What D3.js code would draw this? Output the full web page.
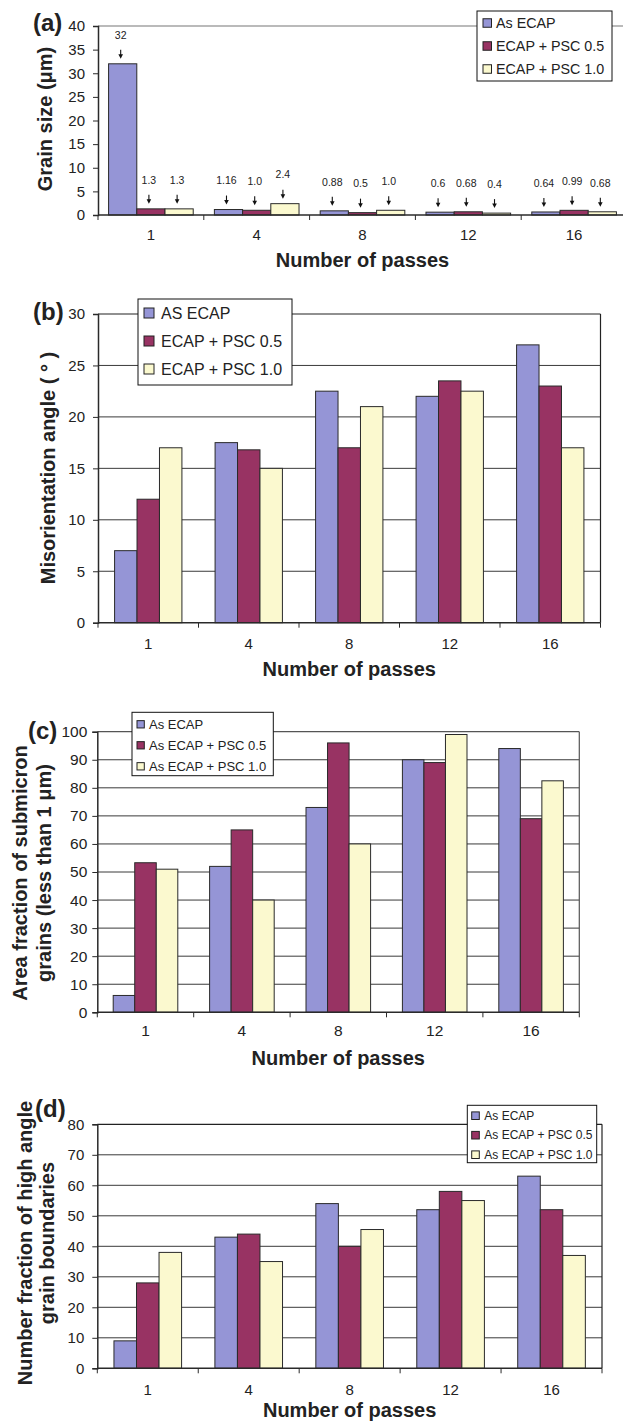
<!DOCTYPE html>
<html>
<head>
<meta charset="utf-8">
<script src="https://cdn.jsdelivr.net/npm/d3@7"></script>
<style>
  body { margin: 0; background: #fff; }
  svg { display: block; }
  text { font-family: "Liberation Sans", Arial, sans-serif; fill: #222; }
</style>
</head>
<body>
<svg id="fig" width="623" height="1422"></svg>
<script>
// Number of ECAP passes (shared category axis)
const passes = ["1", "4", "8", "12", "16"];

// (a) Grain size, µm
const grainAsEcap = [32, 1.16, 0.88, 0.6, 0.64];
const grainPsc05  = [1.3, 1.0, 0.5, 0.68, 0.99];
const grainPsc10  = [1.3, 2.4, 1.0, 0.4, 0.68];

// (b) Misorientation angle, degrees
const misAsEcap = [7, 17.5, 22.5, 22, 27];
const misPsc05  = [12, 16.8, 17, 23.5, 23];
const misPsc10  = [17, 15, 21, 22.5, 17];

// (c) Area fraction of submicron grains, %
const areaAsEcap = [6, 52, 73, 90, 94];
const areaPsc05  = [53.3, 65, 96, 89, 69];
const areaPsc10  = [51, 40, 60, 99, 82.5];

// (d) Number fraction of high angle grain boundaries, %
const hagbAsEcap = [9, 43, 54, 52, 63];
const hagbPsc05  = [28, 44, 40, 58, 52];
const hagbPsc10  = [38, 35, 45.5, 55, 37];

// Legend entries
const legendA  = ["As ECAP", "ECAP + PSC 0.5", "ECAP + PSC 1.0"];
const legendB  = ["AS ECAP", "ECAP + PSC 0.5", "ECAP + PSC 1.0"];
const legendCD = ["As ECAP", "As ECAP + PSC 0.5", "As ECAP + PSC 1.0"];

const seriesColors = ["#9595d6", "#983363", "#fbf9cf"];

const svg = d3.select("#fig");

function fmtValue(v) {
  if (v >= 10) return String(v);
  return Number.isInteger(v) ? v.toFixed(1) : String(v);
}

function drawPanel(o) {
  const g = svg.append("g");
  const x = d3.scaleBand().domain(passes).range([o.left, o.right]);
  const y = d3.scaleLinear().domain([0, o.yMax]).range([o.bottom, o.top]);
  const groupW = x.bandwidth() * o.groupFrac;
  const inner = d3.scaleBand().domain([0, 1, 2]).range([0, groupW]);
  const off = (x.bandwidth() - groupW) / 2;
  const tickVals = d3.range(0, o.yMax + o.yStep / 2, o.yStep);

  // horizontal gridlines
  if (o.grid) {
    g.append("g").selectAll("line")
      .data(tickVals.filter(t => t > 0 && t < o.yMax))
      .join("line")
      .attr("x1", o.left).attr("x2", o.right)
      .attr("y1", d => y(d)).attr("y2", d => y(d))
      .attr("stroke", "#3a3a3a").attr("stroke-width", 1);
  }
  // plot frame: top and right edges
  g.append("line")
    .attr("x1", o.left).attr("x2", o.right)
    .attr("y1", y(o.yMax)).attr("y2", y(o.yMax))
    .attr("stroke", o.frameColor).attr("stroke-width", 1.2);
  if (o.rightEdge) {
    g.append("line")
      .attr("x1", o.right).attr("x2", o.right)
      .attr("y1", o.top).attr("y2", o.bottom)
      .attr("stroke", o.frameColor).attr("stroke-width", 1.2);
  }

  // bars
  const series = o.series;
  series.forEach((vals, s) => {
    g.append("g").selectAll("rect")
      .data(vals)
      .join("rect")
      .attr("x", (d, i) => x(passes[i]) + off + inner(s))
      .attr("width", inner.bandwidth())
      .attr("y", d => y(d))
      .attr("height", d => y(0) - y(d))
      .attr("fill", seriesColors[s])
      .attr("stroke", "#2a2a2a")
      .attr("stroke-width", 1);
  });

  // value annotations with arrows
  if (o.annotate) {
    series.forEach((vals, s) => {
      vals.forEach((v, i) => {
        const cx = x(passes[i]) + off + inner(s) + inner.bandwidth() / 2 - 2;
        const ty = y(v);
        g.append("text")
          .attr("x", cx).attr("y", ty - 28)
          .attr("text-anchor", "middle")
          .attr("dominant-baseline", "middle")
          .attr("font-size", 10.5)
          .attr("fill", "#333")
          .text(fmtValue(v));
        g.append("line")
          .attr("x1", cx).attr("x2", cx)
          .attr("y1", ty - 14).attr("y2", ty - 8)
          .attr("stroke", "#111").attr("stroke-width", 1.1);
        g.append("path")
          .attr("d", `M${cx - 2.3},${ty - 9.5} L${cx + 2.3},${ty - 9.5} L${cx},${ty - 5} Z`)
          .attr("fill", "#111");
      });
    });
  }

  // y axis
  const yAxis = g.append("g")
    .attr("transform", `translate(${o.left},0)`)
    .call(d3.axisLeft(y).tickValues(tickVals).tickSize(5).tickPadding(o.yPad).tickFormat(d3.format("d")));
  yAxis.select(".domain").attr("stroke", "#2a2a2a").attr("stroke-width", 1.5);
  yAxis.selectAll(".tick line").attr("stroke", "#2a2a2a");
  yAxis.selectAll(".tick text")
    .attr("font-size", o.tickFont)
    .attr("font-family", "Liberation Sans, Arial, sans-serif")
    .attr("fill", "#222");

  // x axis: labels at category centres, ticks at category boundaries
  const xAxis = g.append("g")
    .attr("transform", `translate(0,${o.bottom})`)
    .call(d3.axisBottom(x).tickSize(0).tickPadding(o.xPad));
  xAxis.select(".domain").remove();
  xAxis.selectAll(".tick text")
    .attr("font-size", o.tickFont)
    .attr("font-family", "Liberation Sans, Arial, sans-serif")
    .attr("fill", "#222");
  g.append("line")
    .attr("x1", o.left).attr("x2", o.right)
    .attr("y1", o.bottom).attr("y2", o.bottom)
    .attr("stroke", "#2a2a2a").attr("stroke-width", 1.5);
  g.append("g").selectAll("line")
    .data(passes.map(p => x(p)).concat([o.right]))
    .join("line")
    .attr("x1", d => d).attr("x2", d => d)
    .attr("y1", o.bottom).attr("y2", o.bottom + 5)
    .attr("stroke", "#2a2a2a").attr("stroke-width", 1);

  // axis titles
  g.append("text")
    .attr("x", (o.left + o.right) / 2).attr("y", o.xTitleY)
    .attr("text-anchor", "middle")
    .attr("font-size", 20).attr("font-weight", "bold")
    .attr("fill", "#111")
    .text("Number of passes");
  o.yTitle.forEach((line, k) => {
    g.append("text")
      .attr("transform", `translate(${o.yTitleX[k]},${o.yTitleCY}) rotate(-90)`)
      .attr("text-anchor", "middle")
      .attr("font-size", 20).attr("font-weight", "bold")
      .attr("fill", "#111")
      .text(line);
  });

  // panel letter
  g.append("text")
    .attr("x", o.tagX).attr("y", o.tagY)
    .attr("font-family", "Liberation Serif, Times New Roman, serif")
    .attr("font-size", 24).attr("font-weight", "bold")
    .attr("fill", "#111")
    .text(o.tag);

  // legend
  const L = o.legend;
  const lg = g.append("g");
  lg.append("rect")
    .attr("x", L.x).attr("y", L.y).attr("width", L.w).attr("height", L.h)
    .attr("fill", "#fff").attr("stroke", "#111").attr("stroke-width", 1);
  L.labels.forEach((lab, k) => {
    const cy = L.y + L.first + k * L.step;
    lg.append("rect")
      .attr("x", L.x + L.swX).attr("y", cy - L.sw / 2)
      .attr("width", L.sw).attr("height", L.sw)
      .attr("fill", seriesColors[k]).attr("stroke", "#222").attr("stroke-width", 1);
    lg.append("text")
      .attr("x", L.x + L.textX).attr("y", cy)
      .attr("dominant-baseline", "central")
      .attr("font-size", L.font)
      .attr("fill", "#111")
      .text(lab);
  });
}

// (a) grain size
drawPanel({
  tag: "(a)", tagX: 33, tagY: 31,
  left: 98, right: 627, top: 26, bottom: 215,
  yMax: 40, yStep: 5, groupFrac: 0.80,
  grid: false, rightEdge: false, frameColor: "#777",
  series: [grainAsEcap, grainPsc05, grainPsc10],
  annotate: true,
  tickFont: 15, yPad: 8, xPad: 14.5,
  xTitleY: 267,
  yTitle: ["Grain size (\u03bcm)"], yTitleX: [52], yTitleCY: 119,
  legend: { x: 477, y: 11, w: 135, h: 70, first: 12, step: 23, sw: 8.5, swX: 6, textX: 19, font: 14.3, labels: legendA }
});

// (b) misorientation angle
drawPanel({
  tag: "(b)", tagX: 33, tagY: 320,
  left: 98, right: 600.5, top: 314, bottom: 622.7,
  yMax: 30, yStep: 5, groupFrac: 0.67,
  grid: true, rightEdge: true, frameColor: "#222",
  series: [misAsEcap, misPsc05, misPsc10],
  annotate: false,
  tickFont: 15, yPad: 8, xPad: 16,
  xTitleY: 676,
  yTitle: ["Misorientation angle ( \u00b0 )"], yTitleX: [55], yTitleCY: 468,
  legend: { x: 138, y: 299, w: 154, h: 86, first: 14, step: 28, sw: 10, swX: 6, textX: 23, font: 16, labels: legendB }
});

// (c) area fraction of submicron grains
drawPanel({
  tag: "(c)", tagX: 28, tagY: 739,
  left: 97.3, right: 579.3, top: 731.7, bottom: 1012.3,
  yMax: 100, yStep: 10, groupFrac: 0.67,
  grid: true, rightEdge: true, frameColor: "#555",
  series: [areaAsEcap, areaPsc05, areaPsc10],
  annotate: false,
  tickFont: 15.5, yPad: 5, xPad: 12.5,
  xTitleY: 1065,
  yTitle: ["Area fraction of submicron", "grains (less than 1 \u03bcm)"], yTitleX: [27, 51], yTitleCY: 873,
  legend: { x: 132, y: 712.3, w: 141.3, h: 63.4, first: 12, step: 21, sw: 7.3, swX: 5, textX: 17, font: 13, labels: legendCD }
});

// (d) number fraction of high angle grain boundaries
drawPanel({
  tag: "(d)", tagX: 35, tagY: 1117,
  left: 97.3, right: 602, top: 1124.3, bottom: 1368.3,
  yMax: 80, yStep: 10, groupFrac: 0.67,
  grid: true, rightEdge: true, frameColor: "#222",
  series: [hagbAsEcap, hagbPsc05, hagbPsc10],
  annotate: false,
  tickFont: 15, yPad: 8, xPad: 16,
  xTitleY: 1417,
  yTitle: ["Number fraction of high angle", "grain boundaries"], yTitleX: [32, 54], yTitleCY: 1243,
  legend: { x: 467.3, y: 1105.3, w: 129.4, h: 57.4, first: 10.4, step: 19.5, sw: 7.6, swX: 4.4, textX: 17, font: 12, labels: legendCD }
});
</script>
</body>
</html>
